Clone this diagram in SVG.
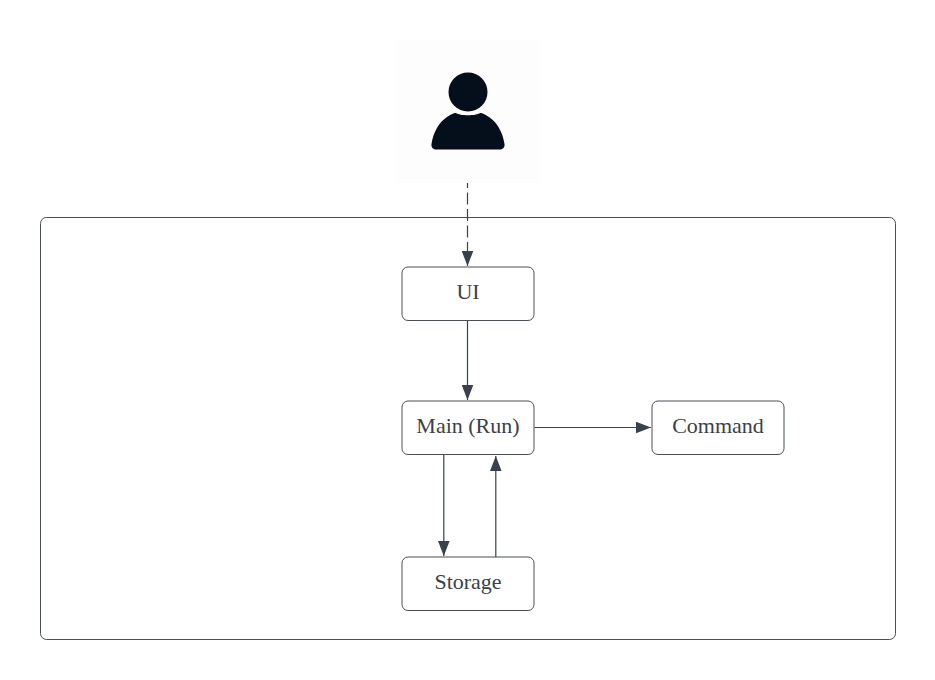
<svg xmlns="http://www.w3.org/2000/svg" width="935" height="680" viewBox="0 0 935 680">
<style>
.box{fill:#fff;stroke:#4a4f57;stroke-width:1}
.lbl{font-family:"Liberation Serif","Times New Roman",serif;font-size:22px;fill:#3a414a;text-anchor:middle}
.conn{fill:none;stroke:#3a414a;stroke-width:1.2}
</style>
<defs>
<marker id="arrow" markerUnits="userSpaceOnUse" markerWidth="16" markerHeight="12" refX="15" refY="6" orient="auto">
<path d="M0 0.2L15 6L0 11.800Z" fill="#3a414a"/>
</marker>
</defs>
<rect width="935" height="680" fill="#fff"/>
<g id="container"><rect class="box" x="40.500" y="217.500" width="855" height="422" rx="6"/></g>
<g id="actor">
<rect x="396" y="40" width="144" height="143" fill="#fdfdfd"/>
<circle cx="468" cy="92" r="19.500" fill="#050f1c"/>
<path d="M447 117C452 114 453 113 456 113C460 116 476 116 480 113C483 113 484 114 489 117C497 122 503 133 504.500 144C505 147 503 149.500 500 149.500H436C433 149.500 431 147 431.500 144C433 133 439 122 447 117Z" fill="#050f1c"/>
</g>
<g id="ui"><rect class="box" x="402" y="267" width="132" height="53.500" rx="6"/><text class="lbl" x="468" y="299">UI</text></g>
<g id="main"><rect class="box" x="402" y="401" width="132" height="53.500" rx="6"/><text class="lbl" x="468" y="433">Main (Run)</text></g>
<g id="command"><rect class="box" x="652" y="401" width="132" height="53.500" rx="6"/><text class="lbl" x="718" y="433">Command</text></g>
<g id="storage"><rect class="box" x="402" y="557" width="132" height="53.500" rx="6"/><text class="lbl" x="468" y="589">Storage</text></g>
<g id="connectors">
<path class="conn" d="M467.500 183V266" stroke-dasharray="12 4.500" stroke-dashoffset="7" marker-end="url(#arrow)"/>
<path class="conn" d="M467.500 321V400" marker-end="url(#arrow)"/>
<path class="conn" d="M534.500 427.500H651" marker-end="url(#arrow)"/>
<path class="conn" d="M443.800 455V556" marker-end="url(#arrow)"/>
<path class="conn" d="M495.800 557V456" marker-end="url(#arrow)"/>
</g>
</svg>
